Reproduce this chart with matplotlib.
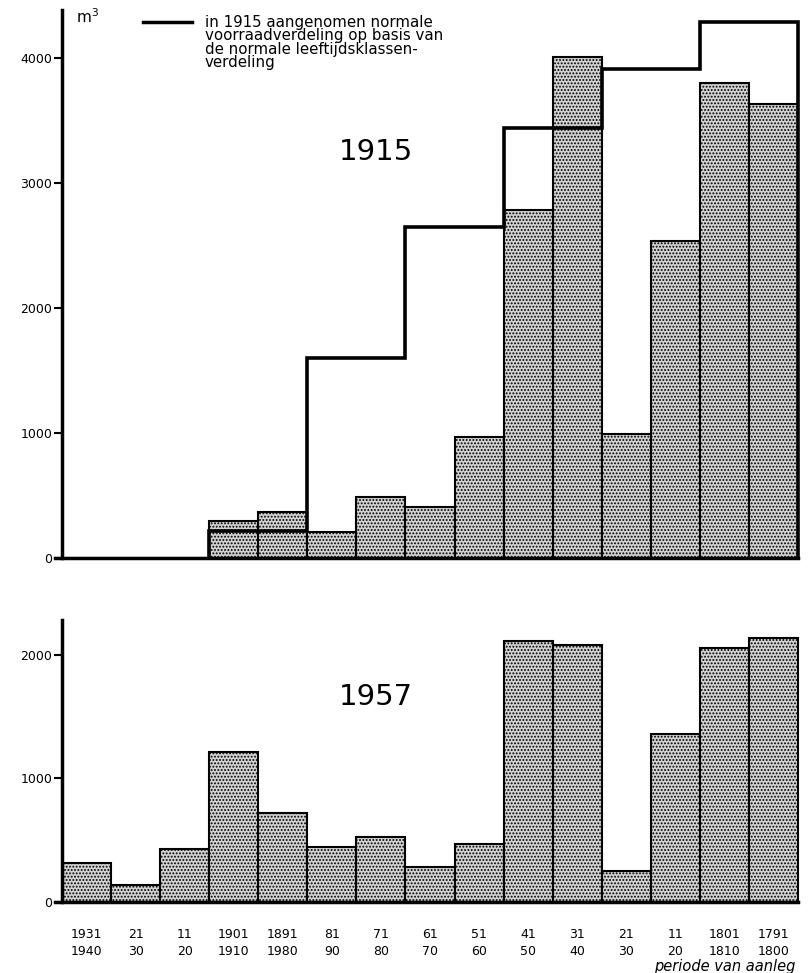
import numpy as np
import matplotlib
matplotlib.use("Agg")
import matplotlib.pyplot as plt

# periods of establishment (aanleg), newest first
labels_top = ["1931", "21", "11", "1901", "1891", "81", "71", "61",
              "51", "41", "31", "21", "11", "1801", "1791"]
labels_bottom = ["1940", "30", "20", "1910", "1980", "90", "80", "70",
                 "60", "50", "40", "30", "20", "1810", "1800"]

# growing stock in m3 per period
stock_1915 = [0, 0, 0, 296, 368, 208, 488, 408, 968, 2782, 4007, 990, 2537, 3800, 3634]
stock_1957 = [314, 138, 430, 1214, 724, 448, 525, 286, 470, 2117, 2079, 254, 1360, 2057, 2138]

# normal stock distribution assumed in 1915 (from 1901-1910 onward)
normal_1915 = [220, 220, 1600, 1600, 2650, 2650, 3440, 3440, 3910, 3910, 4290, 4290]
normal_start = 3

plt.rcParams["hatch.color"] = "#3c3c3c"
plt.rcParams["hatch.linewidth"] = 0.9

fig = plt.figure(figsize=(8.09, 9.73), dpi=100)
W, H = 809, 973


def px_axes(x0, x1, y_top, y_bottom):
    return fig.add_axes([x0 / W, 1 - y_bottom / H, (x1 - x0) / W, (y_bottom - y_top) / H])


ax1 = px_axes(62, 800, 10, 558)
ax2 = px_axes(62, 800, 620, 902)

n = len(labels_top)
x = np.arange(n)

for ax, vals in [(ax1, stock_1915), (ax2, stock_1957)]:
    ax.bar(x + 0.5, vals, width=1.0, facecolor="#d2d2d2", edgecolor="black",
           linewidth=1.5, hatch=".....")
    ax.set_xlim(0, n + 0.04)
    for side in ["top", "right"]:
        ax.spines[side].set_visible(False)
    ax.spines["left"].set_linewidth(2.5)
    ax.spines["bottom"].set_linewidth(2.5)
    ax.spines["bottom"].set_bounds(-0.15, n)
    ax.tick_params(axis="y", direction="out", length=6, width=1.5, labelsize=9, pad=1)
    ax.set_xticks([])

ax1.set_ylim(0, 4384)
ax1.set_yticks([0, 1000, 2000, 3000, 4000])
ax2.set_ylim(0, 2283)
ax2.set_yticks([0, 1000, 2000])

# normal distribution step line
edges = np.arange(normal_start, normal_start + len(normal_1915) + 1)
ax1.stairs(normal_1915, edges, baseline=0, color="black", linewidth=2.6)

# x labels, two rows
for i in range(n):
    ax2.text(i + 0.5, -0.115, labels_top[i], transform=ax2.get_xaxis_transform(),
             ha="center", va="center", fontsize=9)
    ax2.text(i + 0.5, -0.175, labels_bottom[i], transform=ax2.get_xaxis_transform(),
             ha="center", va="center", fontsize=9)

fig.text(795 / W, 1 - 966 / H, "periode van aanleg", ha="right", va="center",
         fontsize=10.5, style="italic")

fig.text(76 / W, 1 - 17 / H, "m$^3$", ha="left", va="center", fontsize=11)

# legend
fig.lines.append(plt.Line2D([143 / W, 192 / W], [1 - 22 / H, 1 - 22 / H],
                            transform=fig.transFigure, color="black", linewidth=2.5))
fig.text(205 / W, 1 - 15 / H,
         "in 1915 aangenomen normale\nvoorraadverdeling op basis van\n"
         "de normale leeftijdsklassen-\nverdeling",
         ha="left", va="top", fontsize=10.8, linespacing=0.86)

fig.text(376 / W, 1 - 152 / H, "1915", ha="center", va="center", fontsize=21)
fig.text(376 / W, 1 - 697 / H, "1957", ha="center", va="center", fontsize=21)

fig.savefig("out.png", dpi=100)
